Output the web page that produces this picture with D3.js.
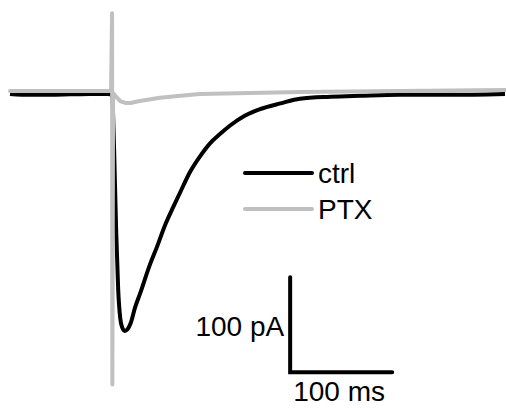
<!DOCTYPE html>
<html>
<head>
<meta charset="utf-8">
<script src="https://cdn.jsdelivr.net/npm/d3@7"></script>
<style>
  body { margin: 0; background: #fff; }
  text { font-family: "Liberation Sans", Arial, sans-serif; fill: #000; }
</style>
</head>
<body>
<div id="my_dataviz"></div>
<script>
// set the dimensions of the graph
const width = 506
const height = 410

// ctrl trace, time in ms from stimulus, current in pA
const ctrlTime = [-100, -80, -61, -41, -22, -4, 0, 2, 4, 6, 8, 10, 12.5, 15, 18, 22.5, 27.5, 37, 44, 52, 60, 67, 76.5, 86, 96, 106, 116, 130, 145, 165, 184, 214, 243, 282, 331, 385]
const ctrlCurrent = [-2, -3, -3, -2.5, -2, -2, -3, -61, -145, -208, -238, -248, -251.5, -250, -244, -227, -212, -182, -163, -140, -121, -105, -84, -68, -54, -44, -35, -25, -18, -12, -7, -5, -4, -3, -3, -2]

// PTX trace (includes the stimulus artifact)
const ptxTime = [-100, -51, -4, -1, 0, 0.3, 1, 4, 8, 13, 18, 27, 47, 67, 86, 135, 184, 282, 385]
const ptxCurrent = [1, 1, 1, 1, 83, -308, -1, -5, -9.5, -11.5, -11.5, -9.5, -6, -4, -2, -1, 0, 1, 2]

// legend and scale bar
const seriesNames = ["ctrl", "PTX"]
const seriesColors = ["#000000", "#c0c0c0"]
const barTime = [174.5, 274.5]      // 100 ms
const barCurrent = [-295, -195]     // 100 pA
const barLabels = ["100 ms", "100 pA"]

const svg = d3.select("#my_dataviz")
  .append("svg")
  .attr("width", width)
  .attr("height", height)

const x = d3.scaleLinear()
  .domain([-100, 385])
  .range([10, 505])

const y = d3.scaleLinear()
  .domain([0, -300])
  .range([92, 377])

const line = d3.line()
  .x(d => x(d[0]))
  .y(d => y(d[1]))

const ctrl = ctrlTime.map((t, i) => [t, ctrlCurrent[i]])
const ptx = ptxTime.map((t, i) => [t, ptxCurrent[i]])

// black first, gray on top
svg.append("path")
  .datum(ctrl)
  .attr("d", line.curve(d3.curveMonotoneX))
  .attr("fill", "none")
  .attr("stroke", seriesColors[0])
  .attr("stroke-width", 4)
  .attr("stroke-linejoin", "round")

svg.append("path")
  .datum(ptx)
  .attr("d", line.curve(d3.curveLinear))
  .attr("fill", "none")
  .attr("stroke", seriesColors[1])
  .attr("stroke-width", 4)
  .attr("stroke-linejoin", "round")
  .attr("stroke-linecap", "round")

// legend
const legend = svg.append("g")
  .selectAll("g")
  .data(seriesNames)
  .join("g")
    .attr("transform", (d, i) => `translate(245, ${173 + i * 36})`)

legend.append("line")
  .attr("x1", 0)
  .attr("x2", 67)
  .attr("stroke", (d, i) => seriesColors[i])
  .attr("stroke-width", 4)
  .attr("stroke-linecap", "round")

legend.append("text")
  .attr("x", 73)
  .attr("y", 10)
  .style("font-size", "28px")
  .text(d => d)

// scale bar
svg.append("path")
  .attr("d", d3.line()([
    [x(barTime[0]), y(barCurrent[1])],
    [x(barTime[0]), y(barCurrent[0])],
    [x(barTime[1]), y(barCurrent[0])]
  ]))
  .attr("fill", "none")
  .attr("stroke", "#000")
  .attr("stroke-width", 4)
  .attr("stroke-linecap", "round")

svg.append("text")
  .attr("x", x(barTime[0]) + 3)
  .attr("y", y(barCurrent[0]) + 29)
  .style("font-size", "28px")
  .text(barLabels[0])

svg.append("text")
  .attr("x", x(barTime[0]) - 6)
  .attr("y", y(barCurrent[0]) - 36)
  .attr("text-anchor", "end")
  .style("font-size", "28px")
  .text(barLabels[1])
</script>
</body>
</html>
